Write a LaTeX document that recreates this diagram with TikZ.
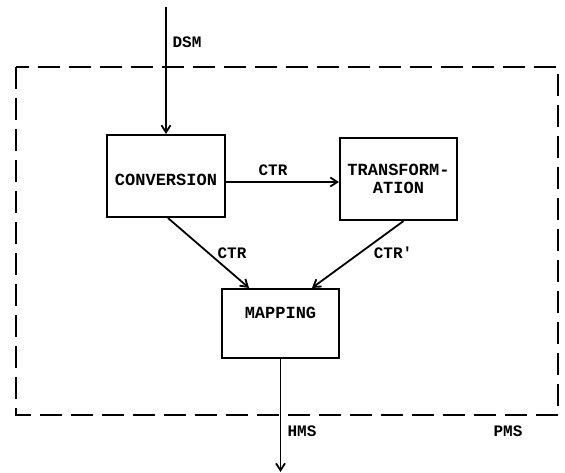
\documentclass[tikz,border=0pt]{standalone}
\usepackage{fontspec}
\newfontfamily\tw{Liberation Mono}
\usetikzlibrary{arrows.meta,calc}
\tikzset{
  boxnode/.style={draw,line width=2.1pt,inner sep=0pt,align=center,font=\tw\bfseries\fontsize{17}{18}\selectfont},
  lbl/.style={inner sep=0pt,font=\tw\bfseries\fontsize{16}{17}\selectfont},
  arr/.style={line width=1.8pt,-{Straight Barb[length=7pt,width=9pt,line width=1.8pt]}},
  frame/.style={line width=2.3pt,dash pattern=on 22pt off 9pt}
}
\begin{document}
\begin{tikzpicture}[x=1pt,y=-1pt]
\useasboundingbox (0,0) rectangle (565,473);
\draw[frame] (16,67) rectangle (558,415);
\node[boxnode,minimum width=118pt,minimum height=82pt] (conv) at (166,176) {\raisebox{-5pt}[9pt][0pt]{CONVERSION}};
\node[boxnode,minimum width=117pt,minimum height=82pt] (trans) at (398.5,179) {TRANSFORM-\\ATION};
\node[boxnode,minimum width=117pt,minimum height=69pt] (map) at (280.5,323.5) {\raisebox{10pt}[9pt][0pt]{MAPPING}};
\coordinate (in) at (166,7);
\coordinate (out) at (280.5,472);
\draw[arr] (in) -- (conv.north);
\node[lbl] (dsm) at (187,42) {DSM};
\draw[arr] ([yshift=-6pt]conv.east) -- ([yshift=-6pt]conv.east -| trans.west);
\node[lbl] (ctra) at (273,170) {CTR};
\draw[arr] ([xshift=2pt]conv.south) -- ([xshift=-31.5pt]map.north);
\node[lbl] (ctrb) at (232,253) {CTR};
\draw[arr] ([xshift=5pt]trans.south) -- ([xshift=31.5pt]map.north);
\node[lbl] (ctrc) at (393,253) {CTR'};
\draw[arr] (map.south) -- (out);
\node[lbl] (hms) at (302,431) {HMS};
\node[lbl] (pms) at (508,431) {PMS};
\end{tikzpicture}
\end{document}
